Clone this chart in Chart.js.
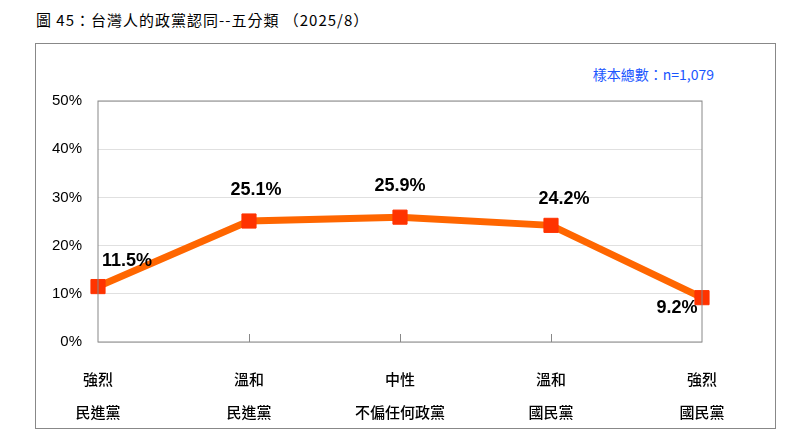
<!DOCTYPE html>
<html><head><meta charset="utf-8">
<script src="https://cdn.jsdelivr.net/npm/chart.js@4"></script>
<style>
body{margin:0;background:#fff;width:800px;height:448px;overflow:hidden;position:relative;font-family:"Noto Sans CJK TC",sans-serif}
#title{position:absolute;left:36px;top:9px;font-size:15px;font-family:"Noto Sans CJK TC";letter-spacing:1px;color:#000}
#box{position:absolute;left:35px;top:43px;width:739px;height:384px;border:1px solid #888}
#n{position:absolute;right:86px;top:64px;color:#1a56ff;font-size:14px;font-family:"Noto Sans CJK TC"}
canvas{position:absolute;left:0;top:0}
</style></head><body>
<div id="title">圖 45：台灣人的政黨認同--五分類 （2025/8）</div>
<div id="box"></div>
<div id="n">樣本總數：n=1,079</div>
<canvas id="c" width="800" height="448"></canvas>
<script>
const categories=[["強烈","民進黨"],["溫和","民進黨"],["中性","不偏任何政黨"],["溫和","國民黨"],["強烈","國民黨"]];
const values=[11.5,25.1,25.9,24.2,9.2];
const yTicks=[0,10,20,30,40,50];
const labelOffsets=[[29,-26],[7,-31],[0,-31],[13,-26],[-25,10]];
const deco={id:'deco',afterDatasetsDraw(ch){
 const c=ch.ctx,a=ch.chartArea,x=ch.scales.x;
 c.save();c.strokeStyle='#888';c.lineWidth=1;
 c.strokeRect(a.left,a.top,a.right-a.left,a.bottom-a.top);
 for(let i=1;i<categories.length-1;i++){const px=Math.round(x.getPixelForValue(i))+.5;c.beginPath();c.moveTo(px,a.bottom-8);c.lineTo(px,a.bottom);c.stroke();}
 c.font='bold 18px "Liberation Sans"';c.fillStyle='#000';c.textAlign='center';c.textBaseline='middle';
 const m=ch.getDatasetMeta(0);
 m.data.forEach((p,i)=>c.fillText(values[i].toFixed(1)+'%',p.x+labelOffsets[i][0],p.y+labelOffsets[i][1]));
 c.restore();}};
new Chart(document.getElementById('c'),{type:'line',
 data:{labels:categories,datasets:[{data:values,borderColor:'#ff6600',borderWidth:7,pointStyle:'rect',pointRadius:10,pointHoverRadius:10,pointBackgroundColor:'#ff3300',pointBorderColor:'#ff3300',pointBorderWidth:1,tension:0}]},
 options:{responsive:false,animation:false,events:[],
  layout:{padding:{top:101,right:98,bottom:12,left:0}},
  plugins:{legend:{display:false},tooltip:{enabled:false}},
  scales:{
   x:{offset:false,grid:{display:false},border:{display:false},
      ticks:{color:'#000',font:{size:15,weight:'500',family:'"Noto Sans CJK TC"',lineHeight:2.25},padding:12,maxRotation:0,autoSkip:false},
      afterFit(s){s.height=448-342-12;}},
   y:{min:0,max:50,afterBuildTicks(s){s.ticks=yTicks.map(v=>({value:v}));},
      grid:{color:'#e0e0e0',borderDash:[1,2],drawTicks:false},border:{display:false},
      ticks:{color:'#000',font:{size:15,family:'"Liberation Sans"'},padding:16,callback:v=>v+'%'},
      afterFit(s){s.width=98;}}
  }},plugins:[deco]});
</script></body></html>
